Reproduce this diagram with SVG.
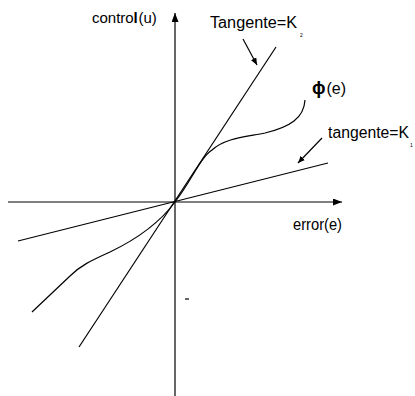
<svg xmlns="http://www.w3.org/2000/svg" width="415" height="396" viewBox="0 0 415 396">
<style>
.ln{stroke:#000;stroke-width:1.2;fill:none}
.t{font-family:"Liberation Sans",Arial,sans-serif;font-size:16px;fill:#000}
.s{font-family:"Liberation Sans",Arial,sans-serif;font-size:15px;fill:#000}
.sub{font-family:"Liberation Sans",Arial,sans-serif;font-size:5px;fill:#000}
</style>
<defs>
<marker id="ah" markerWidth="8" markerHeight="8" refX="7" refY="3" orient="auto" markerUnits="userSpaceOnUse">
<path d="M0,0 L7,3 L0,6 Z" fill="#000"/>
</marker>
<marker id="ax" markerWidth="10" markerHeight="8" refX="9" refY="3.5" orient="auto" markerUnits="userSpaceOnUse">
<path d="M0,0 L9,3.5 L0,7 Z" fill="#000"/>
</marker>
</defs>
<rect width="415" height="396" fill="#fff"/>
<g id="connectors">
<line id="axis-y" class="ln" x1="175" y1="396" x2="175" y2="13" marker-end="url(#ax)"/>
<line id="axis-x" class="ln" x1="8" y1="202" x2="342" y2="202" marker-end="url(#ax)"/>
<line id="k2-line" class="ln" x1="79" y1="347" x2="276" y2="47"/>
<line id="k1-line" class="ln" x1="18" y1="241" x2="328" y2="163"/>
<path id="phi-curve" class="ln" d="M32,312 L70,276 C80,266 90,261 110,252 C135,240 158,225 175,202 C192,180 200,158 212,150 C225,138 245,137 265,133 C290,127 304,118 305,100"/>
<line id="k2-arrow" class="ln" x1="243" y1="39" x2="257" y2="65" marker-end="url(#ah)"/>
<line id="k1-arrow" class="ln" x1="322" y1="138" x2="298" y2="163" marker-end="url(#ah)"/>
<line id="tick" class="ln" x1="185" y1="299" x2="189" y2="299"/>
</g>
<g id="label-control">
<text class="s" x="92" y="23">contro</text>
<text class="s" x="133.6" y="23" font-weight="bold">l</text>
<text class="s" x="138.4" y="23">(u)</text>
</g>
<g id="label-tangente-k2">
<text class="t" x="210" y="28" textLength="87" lengthAdjust="spacingAndGlyphs">Tangente=K</text>
<text class="sub" x="300" y="37">2</text>
</g>
<g id="label-phi">
<text class="t" x="312" y="94"><tspan font-weight="bold" font-size="18">ϕ</tspan><tspan dx="1">(e)</tspan></text>
</g>
<g id="label-tangente-k1">
<text class="t" x="328" y="138" textLength="81" lengthAdjust="spacingAndGlyphs">tangente=K</text>
<text class="sub" x="410" y="147">1</text>
</g>
<g id="label-error">
<text class="t" x="293" y="230" textLength="49" lengthAdjust="spacingAndGlyphs">error(e)</text>
</g>
</svg>
